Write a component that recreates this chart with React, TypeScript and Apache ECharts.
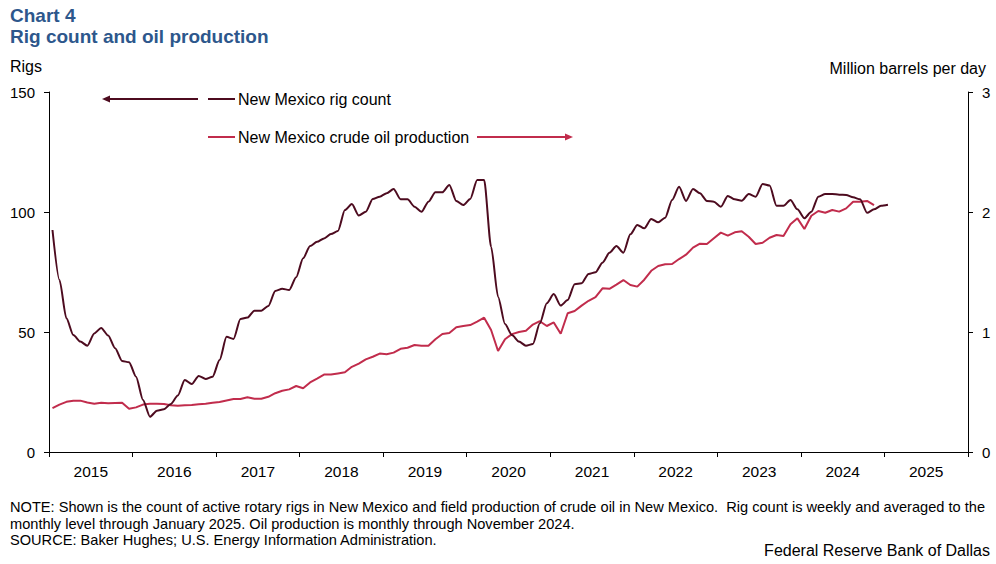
import React, { useEffect, useRef } from "react";
import * as echarts from "echarts";

// Monthly, Jan 2015 .. Jan 2025
const rigCount = [
  92.5, 71.7, 55.7, 48.7, 46, 44.3, 49.4, 51.7, 48.5, 43.2, 37.9, 37.4,
  31.4, 21.7, 14.7, 17.2, 17.8, 20, 23.5, 30, 28.3, 31.7, 30.4, 31.4,
  38.3, 48, 47.1, 55.4, 56, 58.9, 58.9, 60.8, 67.1, 68, 67.5, 72.8,
  80.7, 85.8, 87.6, 89, 90.8, 92.1, 100.8, 103.3, 98.5, 100.1, 105.4, 106.4,
  107.8, 109.6, 105.3, 105.3, 102.2, 100.1, 104.3, 108.2, 108.2, 111.3, 104.6, 102.9,
  105.4, 113.3, 113.3, 85.5, 64.7, 53.3, 48.7, 46, 44.3, 45, 53.6, 62,
  65.8, 61, 63.3, 69.9, 70.3, 74.2, 74.9, 78.9, 83, 85.8, 83, 90.7,
  94.6, 93.2, 97.1, 95.7, 97.6, 105, 110.5, 104.6, 109.6, 107.8, 104.6, 104.3,
  102.2, 106.7, 105.3, 104.7, 107.5, 106.4, 111.7, 111, 102.6, 102.6, 105, 101.1,
  97.4, 100.1, 106.4, 107.5, 107.5, 107.2, 107.1, 106.1, 105.3, 99.7, 101.1, 102.6,
  103,
];

// Monthly, Jan 2015 .. Nov 2024 (million barrels per day)
const oilProduction = [
  0.365, 0.395, 0.418, 0.428, 0.428, 0.412, 0.403, 0.41, 0.406, 0.408, 0.41, 0.36,
  0.372, 0.395, 0.402, 0.402, 0.4, 0.39, 0.386, 0.39, 0.392, 0.398, 0.402, 0.41,
  0.417, 0.43, 0.442, 0.442, 0.456, 0.444, 0.444, 0.46, 0.49, 0.51, 0.522, 0.55,
  0.531, 0.58, 0.612, 0.645, 0.645, 0.655, 0.664, 0.71, 0.737, 0.772, 0.794, 0.82,
  0.814, 0.828, 0.86, 0.869, 0.892, 0.886, 0.886, 0.939, 0.983, 0.992, 1.039, 1.05,
  1.058, 1.086, 1.119, 1.017, 0.842, 0.94, 0.982, 1.0, 1.01, 1.062, 1.09, 1.05,
  1.08, 0.985, 1.156, 1.175, 1.22, 1.26, 1.29, 1.364, 1.36, 1.395, 1.433, 1.392,
  1.378, 1.436, 1.51, 1.55, 1.564, 1.567, 1.608, 1.644, 1.703, 1.736, 1.733, 1.781,
  1.828, 1.803, 1.831, 1.839, 1.794, 1.733, 1.744, 1.785, 1.808, 1.8, 1.897, 1.947,
  1.858, 1.969, 2.008, 1.994, 2.017, 2.003, 2.03, 2.086, 2.086, 2.092, 2.058,
];

const yearLabels = ["2015", "2016", "2017", "2018", "2019", "2020", "2021", "2022", "2023", "2024", "2025"];

const TITLE_1 = "Chart 4";
const TITLE_2 = "Rig count and oil production";
const LEFT_UNIT = "Rigs";
const RIGHT_UNIT = "Million barrels per day";
const RIG_NAME = "New Mexico rig count";
const OIL_NAME = "New Mexico crude oil production";
const NOTE_1 =
  "NOTE: Shown is the count of active rotary rigs in New Mexico and field production of crude oil in New Mexico.  Rig count is weekly and averaged to the";
const NOTE_2 = "monthly level through January 2025. Oil production is monthly through November 2024.";
const SOURCE = "SOURCE: Baker Hughes; U.S. Energy Information Administration.";
const CREDIT = "Federal Reserve Bank of Dallas";

const RIG_COLOR = "#4D0B1F";
const OIL_COLOR = "#C12C4C";
const TITLE_COLOR = "#2D578C";
const FONT = "'Liberation Sans', Arial, sans-serif";

export default function App() {
  const ref = useRef<HTMLDivElement>(null);

  useEffect(() => {
    if (!ref.current) return;
    const chart = echarts.init(ref.current, null, { renderer: "svg" });
    const months = yearLabels.length * 12;

    const textStyle = (extra: any) => ({ fill: "#000", fontFamily: FONT, fontSize: 16, ...extra });

    chart.setOption({
      animation: false,
      backgroundColor: "#fff",
      textStyle: { fontFamily: FONT },
      grid: { left: 49, right: 28, top: 92, height: 360, containLabel: false },
      xAxis: [
        { type: "value", min: 0, max: months, show: false },
        {
          type: "category",
          data: yearLabels,
          position: "bottom",
          boundaryGap: true,
          axisLine: { show: true, lineStyle: { color: "#000", width: 1 } },
          axisTick: { show: true, length: 5, alignWithLabel: false, lineStyle: { color: "#000" } },
          axisLabel: { color: "#000", fontSize: 15.5, margin: 11, fontFamily: FONT },
          splitLine: { show: false },
        },
      ],
      yAxis: [
        {
          type: "value",
          min: 0,
          max: 150,
          interval: 50,
          position: "left",
          axisLine: { show: true, lineStyle: { color: "#000", width: 1 } },
          axisTick: { show: true, length: 5, lineStyle: { color: "#000" } },
          axisLabel: { color: "#000", fontSize: 15, margin: 14, fontFamily: FONT },
          splitLine: { show: false },
        },
        {
          type: "value",
          min: 0,
          max: 3,
          interval: 1,
          position: "right",
          axisLine: { show: true, lineStyle: { color: "#000", width: 1 } },
          axisTick: { show: true, length: 5, lineStyle: { color: "#000" } },
          axisLabel: { color: "#000", fontSize: 15, margin: 14, fontFamily: FONT },
          splitLine: { show: false },
        },
      ],
      series: [
        {
          name: OIL_NAME,
          type: "line",
          xAxisIndex: 0,
          yAxisIndex: 1,
          data: oilProduction.map((v, i) => [i + 0.5, v]),
          showSymbol: false,
          lineStyle: { color: OIL_COLOR, width: 2 },
          itemStyle: { color: OIL_COLOR },
          z: 2,
        },
        {
          name: RIG_NAME,
          type: "line",
          xAxisIndex: 0,
          yAxisIndex: 0,
          data: rigCount.map((v, i) => [i + 0.5, v]),
          showSymbol: false,
          smooth: 0.25,
          smoothMonotone: "x",
          lineStyle: { color: RIG_COLOR, width: 2 },
          itemStyle: { color: RIG_COLOR },
          z: 3,
        },
      ],
      graphic: [
        { type: "text", left: 10, top: 6, style: { text: TITLE_1, fill: TITLE_COLOR, fontFamily: FONT, fontSize: 19, fontWeight: "bold" } },
        { type: "text", left: 10, top: 27, style: { text: TITLE_2, fill: TITLE_COLOR, fontFamily: FONT, fontSize: 19, fontWeight: "bold" } },
        { type: "text", left: 10, top: 58, style: textStyle({ text: LEFT_UNIT }) },
        { type: "text", right: 10, top: 60, style: textStyle({ text: RIGHT_UNIT }) },
        // legend 1
        { type: "line", shape: { x1: 198, y1: 99, x2: 108, y2: 99 }, style: { stroke: RIG_COLOR, lineWidth: 2 } },
        { type: "polygon", shape: { points: [[102, 99], [110, 95.5], [110, 102.5]] }, style: { fill: RIG_COLOR } },
        { type: "line", shape: { x1: 208, y1: 99, x2: 235, y2: 99 }, style: { stroke: RIG_COLOR, lineWidth: 2 } },
        { type: "text", x: 238, y: 99, style: textStyle({ text: RIG_NAME, verticalAlign: "middle" }) },
        // legend 2
        { type: "line", shape: { x1: 208, y1: 137, x2: 235, y2: 137 }, style: { stroke: OIL_COLOR, lineWidth: 2 } },
        { type: "text", x: 238, y: 137, style: textStyle({ text: OIL_NAME, verticalAlign: "middle" }) },
        { type: "line", shape: { x1: 477, y1: 137, x2: 566, y2: 137 }, style: { stroke: OIL_COLOR, lineWidth: 2 } },
        { type: "polygon", shape: { points: [[573, 137], [565, 133.5], [565, 140.5]] }, style: { fill: OIL_COLOR } },
        // notes
        { type: "text", x: 10, y: 507, style: textStyle({ text: NOTE_1, fontSize: 14.6, verticalAlign: "middle" }) },
        { type: "text", x: 10, y: 524, style: textStyle({ text: NOTE_2, fontSize: 14.6, verticalAlign: "middle" }) },
        { type: "text", x: 10, y: 540, style: textStyle({ text: SOURCE, fontSize: 14.6, verticalAlign: "middle" }) },
        { type: "text", x: 990, y: 550, style: textStyle({ text: CREDIT, fontSize: 16, verticalAlign: "middle", align: "right" }) },
      ],
    });

    return () => chart.dispose();
  }, []);

  return <div ref={ref} style={{ position: "fixed", left: 0, top: 0, width: 996, height: 564 }} />;
}
